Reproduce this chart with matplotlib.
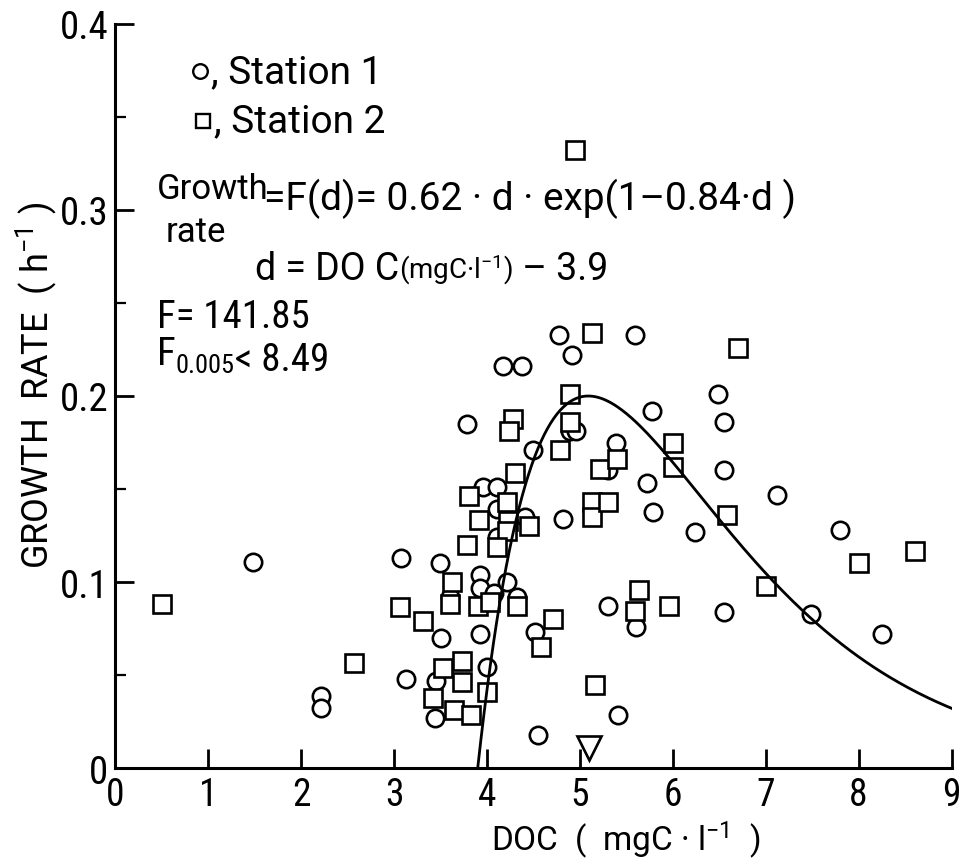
import numpy as np
import matplotlib.pyplot as plt
from matplotlib import font_manager
from matplotlib.ticker import MultipleLocator

# Station 1 (open circles): DOC (mgC/l) and growth rate (1/h)
st1_doc = [1.48, 2.21, 2.21, 3.07, 3.13, 3.49, 3.78, 3.50, 3.45, 3.44,
           3.60, 3.92, 3.92, 4.07, 4.22, 4.32, 3.93, 4.00, 3.96, 4.11,
           4.11, 4.11, 4.41, 4.50, 4.17, 4.38, 4.77, 4.92, 4.89, 4.96,
           4.82, 4.52, 4.55, 5.30, 5.60, 5.41, 5.59, 5.39, 5.30, 5.72,
           5.78, 5.79, 6.24, 6.49, 6.55, 6.55, 6.55, 7.12, 7.49, 7.80,
           8.25]
st1_rate = [0.111, 0.0385, 0.032, 0.113, 0.048, 0.110, 0.185, 0.070, 0.047, 0.027,
            0.092, 0.104, 0.097, 0.094, 0.100, 0.092, 0.072, 0.0545, 0.151, 0.151,
            0.139, 0.124, 0.135, 0.171, 0.216, 0.216, 0.233, 0.222, 0.181, 0.181,
            0.134, 0.073, 0.018, 0.087, 0.076, 0.0285, 0.233, 0.175, 0.160, 0.153,
            0.192, 0.1375, 0.127, 0.201, 0.186, 0.160, 0.084, 0.147, 0.083, 0.128,
            0.072]

# Station 2 (open squares)
st2_doc = [0.50, 2.57, 3.06, 3.31, 3.62, 3.60, 3.90, 4.03, 4.32, 3.73,
           3.53, 3.73, 3.42, 4.00, 3.64, 3.83, 3.81, 4.21, 3.91, 4.23,
           4.45, 4.21, 3.79, 4.11, 4.30, 4.28, 4.24, 4.89, 4.89, 4.79,
           4.95, 5.13, 5.13, 5.13, 5.30, 5.22, 5.40, 4.71, 4.58, 5.16,
           5.64, 5.59, 5.96, 6.00, 6.00, 6.58, 6.70, 7.00, 8.00, 8.61]
st2_rate = [0.088, 0.0565, 0.0864, 0.079, 0.100, 0.088, 0.0873, 0.089, 0.0873, 0.0577,
            0.054, 0.0464, 0.0375, 0.0407, 0.031, 0.0285, 0.146, 0.143, 0.1335, 0.133,
            0.130, 0.1276, 0.120, 0.1187, 0.1586, 0.1876, 0.181, 0.201, 0.186, 0.171,
            0.332, 0.234, 0.143, 0.1347, 0.143, 0.161, 0.166, 0.080, 0.065, 0.0446,
            0.0957, 0.0846, 0.087, 0.1747, 0.1617, 0.136, 0.226, 0.098, 0.110, 0.1165]

# fitted curve: rate = peak * k*d * exp(1 - k*d), d = DOC - 3.9
doc_offset = 3.9
k = 0.84
peak_rate = 0.2
marker_doc = 5.1

# narrow face for the numbers, plain sans for the words
available = {f.name for f in font_manager.fontManager.ttflist}
narrow = 'DejaVu Sans'
for name in ['Roboto Condensed', 'Liberation Sans Narrow', 'DejaVu Sans Condensed']:
    if name in available:
        narrow = name
        break
plt.rcParams['font.family'] = [narrow, 'DejaVu Sans']
plt.rcParams['mathtext.default'] = 'regular'
words = ['Roboto', 'DejaVu Sans']

W, H = 966, 862
fig = plt.figure(figsize=(W / 100, H / 100), dpi=100)
ax = fig.add_axes([115.4 / W, 1 - 769 / H, 836.1 / W, 744 / H])

mk = dict(linestyle='none', mfc='white', mec='black', mew=1.9, ms=12.5)
ax.plot(st1_doc, st1_rate, marker='o', **mk)
ax.plot(st2_doc, st2_rate, marker='s', **mk)

d = np.linspace(0, 9 - doc_offset, 300)
ax.plot(d + doc_offset, peak_rate * k * d * np.exp(1 - k * d), color='black', lw=2)

ax.plot([marker_doc], [0.011], marker='v', linestyle='none', mfc='white',
        mec='black', mew=1.9, ms=17, clip_on=False)

ax.set_xlim(0, 9)
ax.set_ylim(0, 0.4)
for side in ['top', 'right']:
    ax.spines[side].set_visible(False)
for side in ['left', 'bottom']:
    ax.spines[side].set_linewidth(2.2)

ax.xaxis.set_major_locator(MultipleLocator(1))
ax.yaxis.set_minor_locator(MultipleLocator(0.05))
ax.set_yticks([0, 0.1, 0.2, 0.3, 0.4])
ax.set_yticklabels(['0', '0.1', '0.2', '0.3', '0.4'])
ax.tick_params(which='major', direction='in', length=14, width=2,
               labelsize=28, pad=5)
ax.tick_params(which='minor', direction='in', length=8, width=1.6)
ax.tick_params(axis='x', pad=6, labelsize=27)

fig.text(36 / W, 1 - 385 / H, 'GROWTH  RATE  ( h$^{-1}$ )', rotation=90,
         ha='center', va='center', fontsize=26, family=words)
fig.text(626 / W, 1 - 840 / H, 'DOC  (  mgC \u00b7 l$^{-1}$  )',
         ha='center', va='center', fontsize=24, family=words)

# legend drawn as text entries
ax.plot([0.91], [0.3745], marker='o', linestyle='none', mfc='white', mec='black', mew=1.7, ms=10.5)
ax.text(1.03, 0.3745, ', Station 1', fontsize=28, va='center', family=words)
ax.plot([0.94], [0.348], marker='s', linestyle='none', mfc='white', mec='black', mew=1.7, ms=10.5)
ax.text(1.06, 0.348, ', Station 2', fontsize=28, va='center', family=words)

# regression annotation
ax.text(0.448, 0.3113, 'Growth', fontsize=25, va='center', family=words)
ax.text(0.544, 0.2887, 'rate', fontsize=25, va='center', family=words)
ax.text(1.60, 0.3065, '=F(d)= 0.62 \u00b7 d \u00b7 exp(1\u20130.84\u00b7d )',
        fontsize=28, va='center', family=words)

t = ax.text(1.503, 0.2683, 'd = DO C', fontsize=27, va='center', family=words)
t = ax.annotate('(mgC\u00b7l$^{-1}$)', xy=(1, 0.5), xycoords=t, va='center',
                fontsize=20, family=words)
ax.annotate(' \u2013 3.9', xy=(1, 0.5), xycoords=t, va='center',
            fontsize=27, family=words)

ax.text(0.448, 0.2425, 'F= 141.85', fontsize=28, va='center')
t = ax.text(0.448, 0.2226, 'F', fontsize=28, va='center')
t = ax.annotate('0.005', xy=(1, 0.2), xycoords=t, va='center', fontsize=19)
ax.annotate('< 8.49', xy=(1, 0.75), xycoords=t, va='center', fontsize=28)

fig.savefig('out.png', dpi=100)
